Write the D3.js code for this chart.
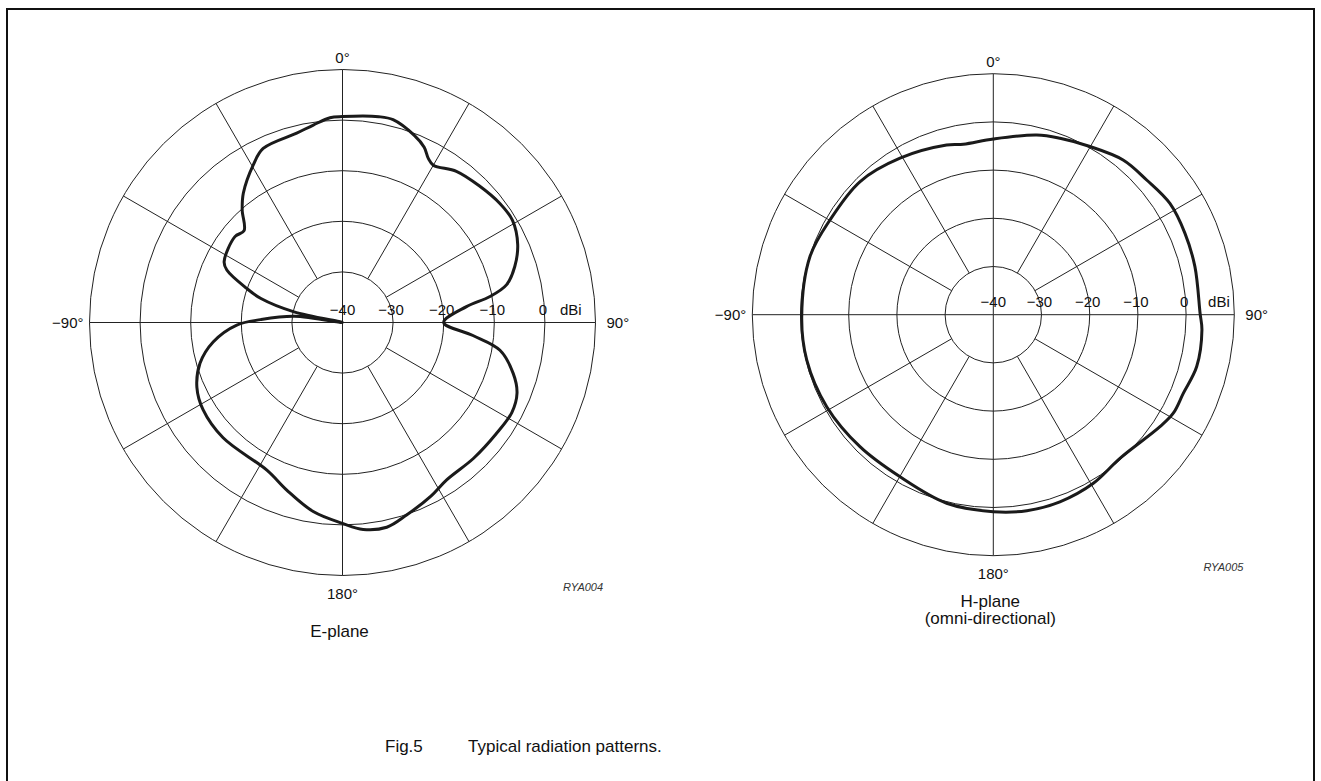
<!DOCTYPE html>
<html>
<head>
<meta charset="utf-8">
<script src="https://cdn.jsdelivr.net/npm/d3@7"></script>
<style>
body { margin: 0; background: #fff; }
text { font-family: "Liberation Sans", Arial, sans-serif; fill: #111; }
</style>
</head>
<body>
<svg id="fig" width="1321" height="781"></svg>
<script>
// E-plane pattern (compass degrees, dBi)
var e_angles = [0, 10, 14, 21, 25, 27.6, 30, 37, 45, 53, 59, 66, 72, 77, 80, 82.7, 90,
	95.7, 100, 106.6, 112, 118, 126, 136, 146.5, 153, 161.6, 167.8, 174.3, 180, 188.8, 198.4,
	207, 226, 238, 246, 254, 261.5, 268.6, 272, 277.4, 279.5, 282.4, 286.4, 289.6, 294.4, 297.2,
	308.6, 313, 318.3, 322.5, 330.5, 335.5, 346.4, 351.6, 356.5];
var e_dbi = [0.7, 1.3, 1.3, -0.4, -1.8, -3.4, -4.1, -2.6, -1.8, -1.0, -0.8, -2.1, -4.2, -6.7, -10.4, -15.3, -20,
	-14.1, -8.4, -4.8, -2.8, -2.1, -2.5, -2.7, -2.7, -1.5, 0.1, 1.4, 1.1, -0.3, -2.2, -5.1,
	-7.2, -7.2, -7.5, -8.5, -10.7, -14.2, -19.1, -23.8, -30.4, -40, -30.2, -23.2, -19.9, -14.9, -13.7,
	-12.8, -13.4, -10.2, -7.8, -4.2, -2.2, -1.5, -0.55, 0.55];

// H-plane pattern
var h_angles = [0, 13.6, 20.7, 29.4, 40, 48.7, 57.8, 67, 76.6, 89.6, 94.2, 104.3, 112.5, 118.7, 123.9,
	138.6, 149.3, 160.4, 170.3, 180, 193.9, 209.9, 225.3, 241.1, 256.4, 269.4, 287.6, 300.1, 315,
	329.2, 344.6, 350];
var h_dbi = [-3.55, -1.65, -0.87, 0.17, 1.9, 2.35, 3.3, 3.2, 3.0, 2.9, 3.4, 3.55, 2.66, 2.57, 1.66,
	-0.27, 0.66, 1.2, 1.25, 0.87, 0.3, -1.2, -1.08, -0.52, -0.17, -0.25, -0.1, -0.83, -0.93,
	-2.2, -3.5, -4.1];

var ring_ticks = [-40, -30, -20, -10, 0];
var ring_lines = [-30, -20, -10, 0, 10];
var spoke_angles = [0, 30, 60, 90, 120, 150, 180, 210, 240, 270, 300, 330];
var dir_labels = ["0\u00b0", "90\u00b0", "180\u00b0", "\u221290\u00b0"];

var svg = d3.select("#fig");

svg.append("rect")
	.attr("x", 7).attr("y", 9)
	.attr("width", 1307).attr("height", 820)
	.attr("fill", "none")
	.attr("stroke", "#111")
	.attr("stroke-width", 2);

function draw_polar(cx, cy, R, angles, dbi, code, sub, subY, dbiGap) {
	var g = svg.append("g").attr("transform", "translate(" + cx + "," + cy + ")");
	var r = d3.scaleLinear().domain([-40, 10]).range([0, R]);
	var rad = function (a) { return a * Math.PI / 180; };

	g.selectAll("circle.ring").data(ring_lines).enter().append("circle")
		.attr("r", function (d) { return r(d); })
		.attr("fill", "none")
		.attr("stroke", "#222")
		.attr("stroke-width", 1);

	g.selectAll("line.spoke").data(spoke_angles).enter().append("line")
		.attr("x1", function (d) { var r0 = d % 90 === 0 ? 0 : r(-30); return r0 * Math.sin(rad(d)); })
		.attr("y1", function (d) { var r0 = d % 90 === 0 ? 0 : r(-30); return -r0 * Math.cos(rad(d)); })
		.attr("x2", function (d) { return R * Math.sin(rad(d)); })
		.attr("y2", function (d) { return -R * Math.cos(rad(d)); })
		.attr("stroke", "#222")
		.attr("stroke-width", 1);

	// dB scale along the 90 degree line
	g.selectAll("text.tick").data(ring_ticks).enter().append("text")
		.attr("x", function (d) { return r(d) - (d === -40 ? 0 : 2); })
		.attr("y", -8)
		.attr("text-anchor", "middle")
		.style("font-size", "15px")
		.text(function (d) { return d === 0 ? "0" : "\u2212" + Math.abs(d); });
	g.append("text")
		.attr("x", r(0) + dbiGap)
		.attr("y", -8)
		.style("font-size", "15px")
		.text("dBi");

	g.append("text").attr("x", 0).attr("y", -R - 7)
		.attr("text-anchor", "middle").style("font-size", "15px").text(dir_labels[0]);
	g.append("text").attr("x", R + 11).attr("y", 5)
		.style("font-size", "15px").text(dir_labels[1]);
	g.append("text").attr("x", 0).attr("y", R + 23)
		.attr("text-anchor", "middle").style("font-size", "15px").text(dir_labels[2]);
	g.append("text").attr("x", -R - 6).attr("y", 5)
		.attr("text-anchor", "end").style("font-size", "15px").text(dir_labels[3]);

	g.append("text")
		.attr("x", R * 0.872).attr("y", R * 1.063)
		.style("font-size", "11px").style("font-style", "italic").style("fill", "#333")
		.text(code);

	var pts = angles.map(function (a, i) { return {a: a, v: dbi[i]}; });
	var line = d3.lineRadial()
		.angle(function (d) { return rad(d.a); })
		.radius(function (d) { return r(d.v); })
		.curve(d3.curveCatmullRomClosed.alpha(0.5));
	g.append("path")
		.datum(pts)
		.attr("d", line)
		.attr("fill", "none")
		.attr("stroke", "#1a1a1a")
		.attr("stroke-width", 3)
		.attr("stroke-linejoin", "round");

	for (var i = 0; i < sub.length; i++) {
		g.append("text")
			.attr("x", -3).attr("y", subY + i * 17)
			.attr("text-anchor", "middle")
			.style("font-size", "17px")
			.text(sub[i]);
	}
}

draw_polar(342.5, 322.5, 253, e_angles, e_dbi, "RYA004", ["E-plane"], 314, 15);
draw_polar(993.3, 314.7, 241, h_angles, h_dbi, "RYA005", ["H-plane", "(omni-directional)"], 292, 22);

svg.append("text")
	.attr("x", 385).attr("y", 752)
	.style("font-size", "17px")
	.text("Fig.5");
svg.append("text")
	.attr("x", 468).attr("y", 752)
	.style("font-size", "17px")
	.text("Typical radiation patterns.");
</script>
</body>
</html>
